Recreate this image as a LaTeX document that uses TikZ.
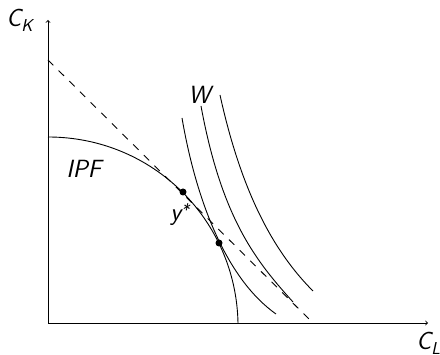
\documentclass[tikz,border=0pt]{standalone}
\begin{document}
\begin{tikzpicture}[x=1pt,y=-1pt,line width=0.9pt,
  lbl/.style={inner sep=0pt,font=\fontsize{24.88}{30}\selectfont\sffamily\slshape},
  dashline/.style={dash pattern=on 7.5pt off 7.5pt},
  dotmark/.style={circle,fill=black,inner sep=0pt,minimum size=7pt}]
\useasboundingbox (0,0) rectangle (440,355);
% axes
\coordinate (O) at (48,323);
\coordinate (ytip) at (48,20);
\coordinate (xtip) at (428,323);
\draw[->] (O) -- (ytip);
\draw[->] (O) -- (xtip);
% budget line
\coordinate (d1) at (48,60);
\coordinate (d2) at (313,323);
\draw[dashline] (d1) -- (d2);
% IPF
\coordinate (i1) at (48,137);
\coordinate (i2) at (238,323);
\draw (i1) .. controls (153,137) and (236,220) .. (i2);
% W curves
\coordinate (w1a) at (182,118); \coordinate (w1b) at (276,314);
\coordinate (w2a) at (201,106); \coordinate (w2b) at (293,302);
\coordinate (w3a) at (220,95);  \coordinate (w3b) at (313,291);
\draw (w1a) .. controls (197,205) and (228,280) .. (w1b);
\draw (w2a) .. controls (222,220) and (257,262) .. (w2b);
\draw (w3a) .. controls (242,195) and (275,253) .. (w3b);
% dots
\node[dotmark] (p1) at (183,192) {};
\node[dotmark] (p2) at (219,243) {};
% labels
\node[lbl,anchor=base west] (ck) at (6,27) {C\raisebox{-5pt}{\fontsize{17.28}{20}\selectfont K}};
\node[lbl,anchor=base west] (cl) at (416,350) {C\raisebox{-5pt}{\fontsize{17.28}{20}\selectfont L}};
\node[lbl,anchor=base west] (w) at (188,104) {W};
\node[lbl,anchor=base west] (ipf) at (66,178) {IPF};
\node[lbl,anchor=base west] (ys) at (170,221) {y\raisebox{4pt}{\fontsize{17.28}{20}\selectfont *}};
\end{tikzpicture}
\end{document}
